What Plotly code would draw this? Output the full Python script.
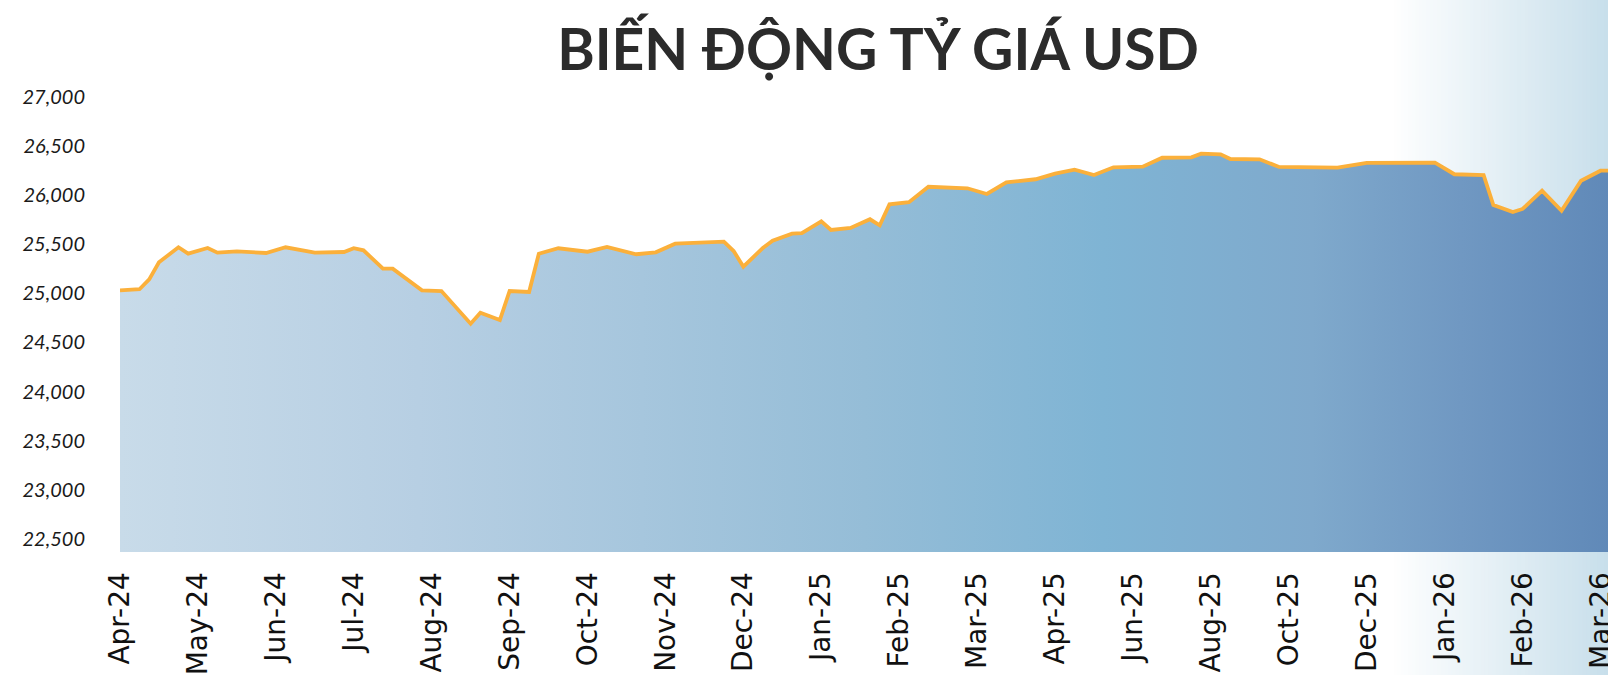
import plotly.graph_objects as go

# category index of each data point (labels every 8th category) and the USD rate
idx = [0, 2, 3, 4, 6, 7, 9, 10, 12, 15, 17, 20, 23, 24, 25, 27, 28, 31, 33, 36,
       37, 39, 40, 42, 43, 45, 48, 50, 53, 55, 57, 62, 63, 64, 66, 67, 69, 70, 72, 73,
       75, 77, 78, 79, 81, 83, 87, 89, 91, 94, 96, 98, 100, 102, 105, 107, 110, 111, 113, 114,
       117, 119, 125, 128, 135, 137, 140, 141, 143, 144, 146, 148, 150, 152, 153]
rate = [25030, 25041, 25142, 25315, 25468, 25403, 25461, 25413, 25427, 25410,
        25468, 25413, 25420, 25458, 25437, 25250, 25250, 25030, 25023, 24691,
        24803, 24728, 25023, 25013, 25403, 25458, 25423, 25471, 25397, 25417,
        25505, 25525, 25430, 25271, 25461, 25535, 25606, 25613, 25732, 25644,
        25664, 25753, 25692, 25905, 25926, 26084, 26068, 26010, 26129, 26160,
        26217, 26257, 26203, 26282, 26288, 26379, 26383, 26420, 26414, 26366,
        26363, 26285, 26278, 26326, 26329, 26211, 26203, 25898, 25827, 25858,
        26044, 25840, 26145, 26247, 26247]

months = ["Apr-24", "May-24", "Jun-24", "Jul-24", "Aug-24", "Sep-24", "Oct-24",
          "Nov-24", "Dec-24", "Jan-25", "Feb-25", "Mar-25", "Apr-25", "Jun-25",
          "Aug-25", "Oct-25", "Dec-25", "Jan-26", "Feb-26", "Mar-26"]
month_pos = [i * 8 for i in range(len(months))]

y_ticks = list(range(22500, 27001, 500))

W, H = 1608, 675
ML, MR, MT, MB = 120, 0, 96, 123
PW, PH = W - ML - MR, H - MT - MB

fig = go.Figure()

fig.add_trace(go.Scatter(
    x=idx, y=rate, mode="lines",
    line=dict(color="#fbb03b", width=3.8),
    fill="tozeroy",
    fillgradient=dict(
        type="horizontal",
        colorscale=[[0, "#c8dbe9"], [0.2, "#b7cfe3"], [0.5, "#95bdd7"],
                    [0.66, "#7fb4d4"], [0.8, "#7fa9cc"], [0.9, "#7098c2"],
                    [1, "#6089b8"]],
    ),
    hoverinfo="x+y",
))

# soft white -> light blue wash on the right side of the page
shapes = []
n = 60
gx0 = (1390 - ML) / PW
for k in range(n):
    t = (k + 0.5) / n
    r = round(255 + (200 - 255) * t)
    g = round(255 + (223 - 255) * t)
    b = round(255 + (235 - 255) * t)
    shapes.append(dict(
        type="rect", xref="paper", yref="paper", layer="below",
        x0=gx0 + (1 - gx0) * k / n, x1=gx0 + (1 - gx0) * (k + 1) / n + 0.002,
        y0=-MB / PH - 0.05, y1=1 + MT / PH + 0.05,
        line=dict(width=0), fillcolor=f"rgb({r},{g},{b})",
    ))

fig.update_layout(
    width=W, height=H,
    template="none",
    paper_bgcolor="white",
    plot_bgcolor="rgba(0,0,0,0)",
    margin=dict(l=ML, r=MR, t=MT, b=MB),
    showlegend=False,
    shapes=shapes,
    title=dict(
        text="<b>BIẾN ĐỘNG TỶ GIÁ USD</b>",
        x=878 / W, xanchor="center",
        y=1 - 50 / H, yanchor="middle",
        font=dict(family="Lato", size=57, color="#2b2b2b", weight=900),
    ),
    xaxis=dict(
        range=[0, 152.77],
        tickmode="array", tickvals=month_pos, ticktext=months,
        tickangle=-90,
        tickfont=dict(family="DejaVu Sans", size=28, color="#111111"),
        ticks="outside", ticklen=8, tickcolor="rgba(0,0,0,0)",
        ticklabeloverflow="allow",
        showgrid=False, zeroline=False, showline=False,
        automargin=False,
    ),
    yaxis=dict(
        range=[22368, 27007],
        tickmode="array", tickvals=y_ticks,
        tickformat=",d",
        tickfont=dict(family="Lato", size=20, color="#1a1a1a", style="italic"),
        ticks="outside", ticklen=30, tickcolor="rgba(0,0,0,0)",
        showgrid=False, zeroline=False, showline=False,
        automargin=False,
    ),
)

fig.write_html(
    "out.html",
    config={"displayModeBar": False},
    post_script="document.body.style.margin='0';document.body.style.overflow='hidden';",
)
